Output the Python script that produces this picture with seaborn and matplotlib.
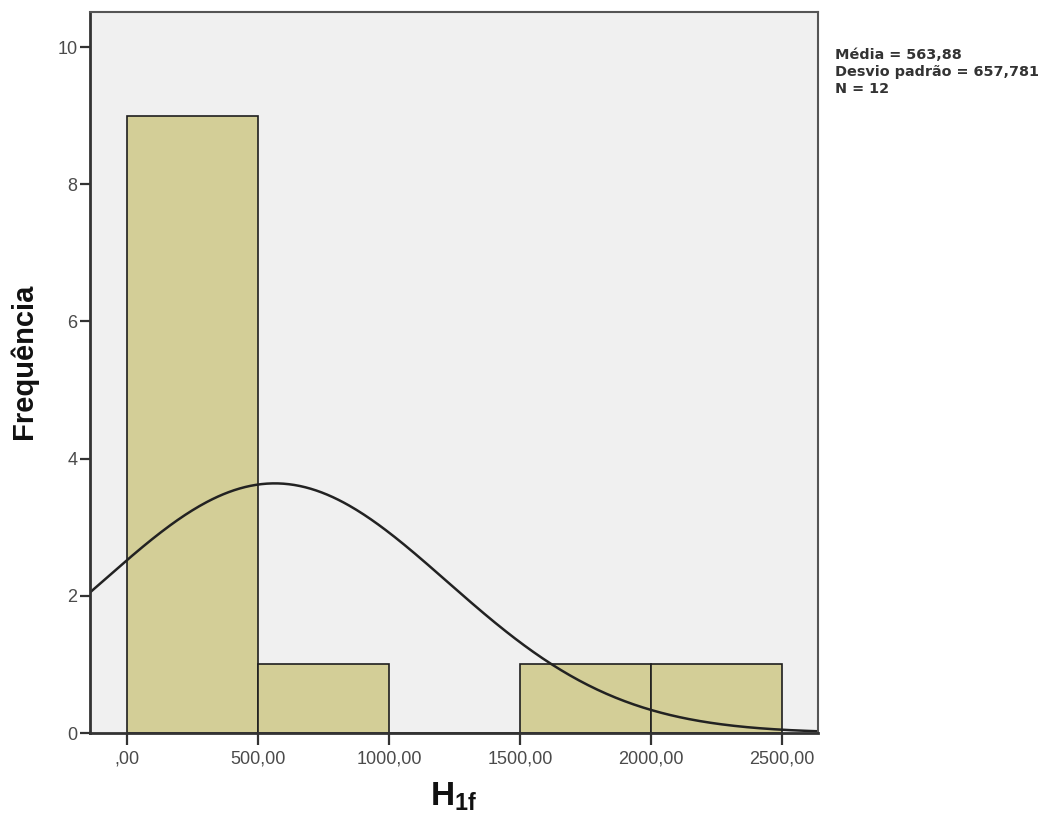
import numpy as np
import pandas as pd
import matplotlib
matplotlib.use("Agg")
import matplotlib.pyplot as plt
import seaborn as sns

# Histogram of H1f: bin edges and counts per bin
bin_edges = [0, 500, 1000, 1500, 2000, 2500]
bin_counts = [9, 1, 0, 1, 1]

# Summary statistics
media = 563.88
desvio = 657.781
n_total = 12

x_ticks = [0, 500, 1000, 1500, 2000, 2500]
x_tick_labels = [",00", "500,00", "1000,00", "1500,00", "2000,00", "2500,00"]
y_ticks = [0, 2, 4, 6, 8, 10]

sns.set_theme(style="white")
plt.rcParams["font.family"] = ["Liberation Sans", "DejaVu Sans"]
plt.rcParams["mathtext.fontset"] = "custom"
plt.rcParams["mathtext.rm"] = "Liberation Sans"
plt.rcParams["mathtext.bf"] = "Liberation Sans:bold"

fig = plt.figure(figsize=(10.54, 8.18), dpi=100)
ax = fig.add_axes([0.0854, 0.1039, 0.6908, 0.8814])
ax.set_facecolor("#f0f0f0")

centers = [(a + b) / 2 for a, b in zip(bin_edges[:-1], bin_edges[1:])]
hist_df = pd.DataFrame({"H1f": centers, "count": bin_counts})
sns.histplot(data=hist_df, x="H1f", weights="count", bins=bin_edges,
             color="#d3ce97", alpha=1.0, edgecolor="#1e1e1e", linewidth=1.2, ax=ax)

# Normal curve scaled to counts (N * bin width)
xmin, xmax = -141, 2637
bw = bin_edges[1] - bin_edges[0]
xs = np.linspace(xmin, xmax, 400)
ys = n_total * bw / (desvio * np.sqrt(2 * np.pi)) * np.exp(-0.5 * ((xs - media) / desvio) ** 2)
curve_df = pd.DataFrame({"x": xs, "y": ys})
sns.lineplot(data=curve_df, x="x", y="y", color="#222222", linewidth=1.8, ax=ax)

ax.set_xlim(xmin, xmax)
ax.set_ylim(0, 10.51)
ax.set_xticks(x_ticks)
ax.set_xticklabels(x_tick_labels)
ax.set_yticks(y_ticks)
ax.tick_params(axis="both", which="major", bottom=True, left=True,
               direction="out", width=1.6, color="#333333",
               labelsize=13, labelcolor="#4a4a4a", pad=2)
ax.tick_params(axis="y", length=7)
ax.tick_params(axis="x", length=8.5, pad=4)

for side in ["left", "bottom"]:
    ax.spines[side].set_color("#333333")
    ax.spines[side].set_linewidth(2)
for side in ["top", "right"]:
    ax.spines[side].set_color("#555555")
    ax.spines[side].set_linewidth(1.5)

ax.set_ylabel("Frequência", fontsize=21, fontweight="bold", color="#111111")
ax.yaxis.set_label_coords(-0.071, 0.515)
ax.set_xlabel(r"$\mathbf{H}_{\mathbf{1f}}$", fontsize=24, color="#111111")
ax.xaxis.set_label_coords(0.5, -0.066)

fig.text(0.792, 0.941, f"Média = 563,88\nDesvio padrão = 657,781\nN = {n_total}",
         fontsize=10.4, fontweight="bold", color="#333333", va="top", ha="left",
         linespacing=1.25, family="DejaVu Sans")

fig.savefig("out.png", dpi=100)
